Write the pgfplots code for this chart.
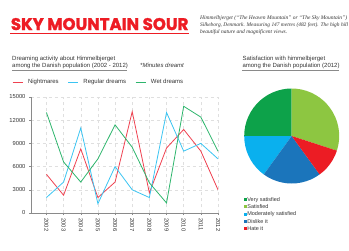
\documentclass[border=0pt]{standalone}
\usepackage{graphicx}
\usepackage{pgfplots}
\pgfplotsset{compat=1.18}
\usepgfplotslibrary{polar}
\usepackage{fontspec}
\setmainfont{Liberation Sans}
\newfontfamily\serifit{Liberation Serif}
\newfontfamily\titlefont{Poppins}[BoldFeatures={FakeBold=1.5}]
\definecolor{titlered}{HTML}{ED1C24}
\definecolor{txt}{HTML}{333333}
\definecolor{axisgray}{HTML}{8A8A8A}
\definecolor{cred}{HTML}{EF4150}
\definecolor{cblue}{HTML}{3BC4F2}
\definecolor{cgreen}{HTML}{2DB56C}
\definecolor{pvsat}{HTML}{0DA24A}
\definecolor{psat}{HTML}{8DC641}
\definecolor{pmod}{HTML}{0AB0EE}
\definecolor{pdis}{HTML}{1B75BB}
\definecolor{phate}{HTML}{EC1C24}
\begin{document}
\begin{tikzpicture}
\useasboundingbox (0pt,0pt) rectangle (349pt,250pt);
% title
\node[anchor=base west, inner sep=0, text=titlered] at (10.7pt,220pt) {\resizebox{177.5pt}{12pt}{\titlefont\bfseries SKY MOUNTAIN SOUR}};
\fill[titlered] (10pt,215.7pt) rectangle (189pt,217.5pt);
% description
\begin{scope}[every node/.style={anchor=base west, inner sep=0, text=txt, font=\serifit\itshape\fontsize{5.5}{7}\selectfont}]
\node at (200pt,230.5pt) {Himmelbjerget (“The Heaven Mountain” or “The Sky Mountain”)};
\node at (200pt,223.5pt) {\resizebox{148pt}{!}{Silkeborg, Denmark. Measuring 147 metres (482 feet). The high hill}};
\node at (200pt,216.5pt) {beautiful nature and magnificent views.};
\end{scope}
% chart titles
\begin{scope}[every node/.style={anchor=base west, inner sep=0, text=txt, font=\fontsize{6}{7}\selectfont}]
\node at (12pt,190pt) {Dreaming activity about Himmelbjerget};
\node at (12pt,183pt) {among the Danish population (2002 - 2012)};
\node[font=\itshape\fontsize{6}{7}\selectfont] at (140pt,183pt) {*Minutes dreamt};
\node at (242.3pt,190pt) {Satisfaction with himmelbjerget};
\node at (242.3pt,183pt) {among the Danish population (2012)};
\end{scope}
\draw[axisgray, line width=0.6pt] (12pt,179.5pt) -- (127pt,179.5pt);
\draw[axisgray, line width=0.6pt] (242.3pt,179.5pt) -- (339.3pt,179.5pt);

\begin{axis}[
  at={(31pt,37pt)}, anchor=south west, scale only axis,
  width=187pt, height=116pt,
  xmin=2001.1, xmax=2012, ymin=0, ymax=15000,
  axis x line=bottom, axis y line=left,
  axis line style={-, draw=axisgray, line width=0.6pt},
  xtick={2002,2003,2004,2005,2006,2007,2008,2009,2010,2011,2012},
  xticklabels={2002,2003,2004,2005,2006,2007,2008,2009,2010,2011,2012},
  ytick={0,3000,6000,9000,12000,15000},
  scaled y ticks=false,
  /pgf/number format/1000 sep={},
  /pgf/number format/assume math mode=true,
  tick align=outside, major tick length=2pt,
  tick style={axisgray, line width=0.4pt},
  grid=major, grid style={dashed, gray!25, line width=0.4pt},
  ticklabel style={font=\fontsize{5.8}{6}\selectfont, text=txt},
  xticklabel style={rotate=-90, anchor=west},
  legend columns=3,
  legend style={at={(axis description cs:-0.1016,1.129)}, anchor=west, draw=none, fill=none, inner sep=0pt,
    font=\fontsize{6}{7}\selectfont, text=txt,
    /tikz/every odd column/.append style={column sep=3pt},
    /tikz/every even column/.append style={column sep=7pt}},
  legend image code/.code={\draw[#1] (0pt,0pt) -- (10pt,0pt);},
  every axis plot/.append style={line width=0.8pt},
]
\addplot[cred] coordinates {(2002,5000) (2003,2300) (2004,8300) (2005,2000) (2006,4000) (2007,13100) (2008,2600) (2009,8400) (2010,10800) (2011,8000) (2012,3000)};
\addlegendentry{Nightmares}
\addplot[cblue] coordinates {(2002,2000) (2003,4000) (2004,11000) (2005,1200) (2006,6000) (2007,3000) (2008,2000) (2009,13000) (2010,8000) (2011,9000) (2012,7000)};
\addlegendentry{Regular dreams}
\addplot[cgreen] coordinates {(2002,13000) (2003,6600) (2004,4000) (2005,7000) (2006,11400) (2007,8500) (2008,3900) (2009,1300) (2010,13800) (2011,12400) (2012,8000)};
\addlegendentry{Wet dreams}
\end{axis}

\begin{axis}[
  at={(291.7pt,114pt)}, anchor=center, scale only axis,
  width=95pt, height=95pt,
  xmin=-1, xmax=1, ymin=-1, ymax=1, hide axis,
  legend style={at={(axis description cs:-0.007,-0.132)}, anchor=north west, draw=none, fill=none, inner sep=0pt,
    font=\fontsize{5.5}{6}\selectfont, text=txt,
    nodes={inner sep=0.6pt, text height=4.2pt, text depth=1.3pt}, row sep=0.63pt,
    /tikz/every even column/.append style={column sep=1.5pt}},
  legend cell align=left,
  legend image code/.code={\fill[#1] (0pt,-1.5pt) rectangle (3pt,1.5pt);},
]
\addplot[fill=pvsat, draw=none, data cs=polar] coordinates {(0,0) (90,1) (96,1) (102,1) (108,1) (114,1) (120,1) (126,1) (132,1) (138,1) (144,1) (150,1) (156,1) (162,1) (168,1) (174,1) (180,1) (0,0)};
\addlegendentry{Very satisfied}
\addplot[fill=psat, draw=none, data cs=polar] coordinates {(0,0) (342,1) (348,1) (354,1) (360,1) (366,1) (372,1) (378,1) (384,1) (390,1) (396,1) (402,1) (408,1) (414,1) (420,1) (426,1) (432,1) (438,1) (444,1) (450,1) (0,0)};
\addlegendentry{Satisfied}
\addplot[fill=pmod, draw=none, data cs=polar] coordinates {(0,0) (180,1) (186,1) (192,1) (198,1) (204,1) (210,1) (216,1) (222,1) (228,1) (234,1) (0,0)};
\addlegendentry{Moderately satisfied}
\addplot[fill=pdis, draw=none, data cs=polar] coordinates {(0,0) (234,1) (240,1) (246,1) (252,1) (258,1) (264,1) (270,1) (276,1) (282,1) (288,1) (294,1) (300,1) (306,1) (0,0)};
\addlegendentry{Dislike it}
\addplot[fill=phate, draw=none, data cs=polar] coordinates {(0,0) (306,1) (312,1) (318,1) (324,1) (330,1) (336,1) (342,1) (0,0)};
\addlegendentry{Hate it}
\end{axis}
\end{tikzpicture}
\end{document}
